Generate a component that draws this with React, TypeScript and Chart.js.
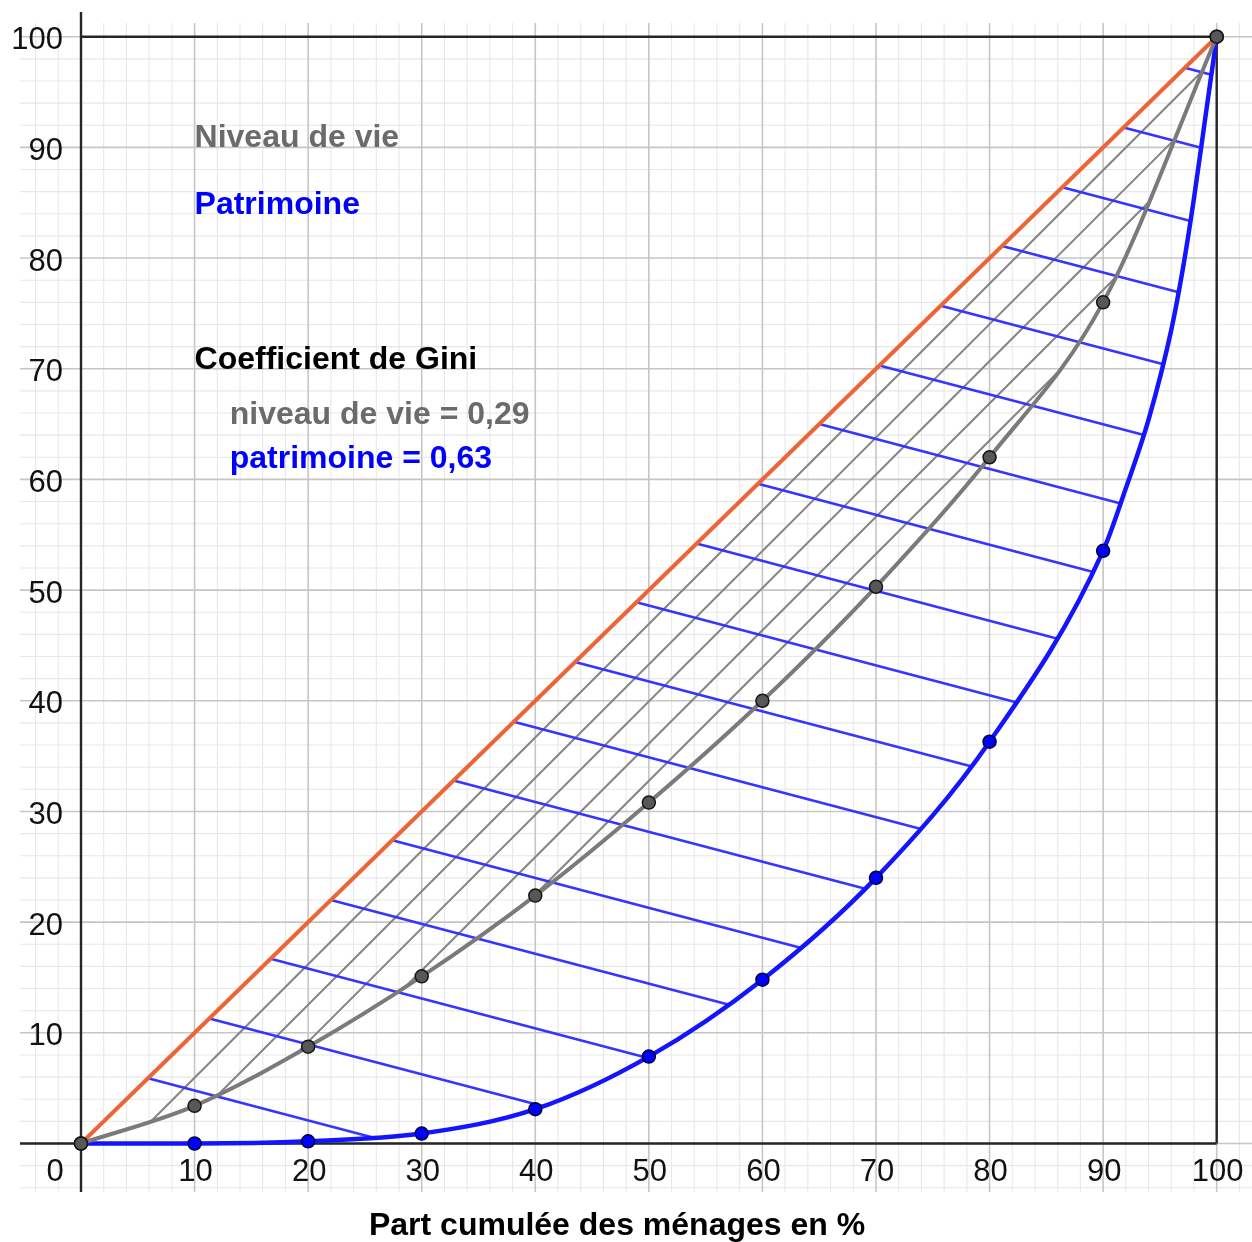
import { useEffect, useRef } from 'react';
import { Chart, registerables } from 'chart.js';

Chart.register(...registerables);

// ---------- data ----------
const deciles = [0, 10, 20, 30, 40, 50, 60, 70, 80, 90, 100];
const niveauDeVie = [0, 3.4, 8.75, 15.1, 22.4, 30.8, 40.0, 50.3, 62.0, 76.0, 100];
const patrimoine = [0, 0, 0.2, 0.9, 3.1, 7.85, 14.8, 24.0, 36.3, 53.55, 100];
// extra positions of the patrimoine curve in its steep upper end
const patrimoineTopX = [92, 94, 96, 97, 98, 99];
const patrimoineTopY = [59.2, 65.4, 73.5, 78.9, 85.4, 92.7];
// line of perfect equality
const egaliteX = [0, 100];
const egaliteY = [0, 100];
// hatching: blue lines start on the equality line, grey lines on the niveau curve
const blueHatchStarts = [5.9, 11.3, 16.7, 22.0, 27.4, 32.8, 38.1, 43.5, 48.9, 54.2, 59.6, 65.0, 70.3, 75.7, 81.1, 86.4, 91.8, 97.2];
const blueHatchSlope = -0.27;
const greyHatchStarts = [6.1, 12.0, 19.0, 28.5, 39.5];
const greyHatchSlope = 1.025;
// axes
const tickValues = [10, 20, 30, 40, 50, 60, 70, 80, 90, 100];
const originLabel = '0';
const xTitle = 'Part cumulée des ménages en %';
const legendNiveau = 'Niveau de vie';
const legendPatrimoine = 'Patrimoine';
const giniTitle = 'Coefficient de Gini';
const giniNiveau = 'niveau de vie = 0,29';
const giniPatrimoine = 'patrimoine = 0,63';

// ---------- view ----------
const PAD = { left: 20, right: 10, top: 23, bottom: 50 };
const W = 1252;
const H = 1242;
const XMIN = -5.371;
const XMAX = XMIN + (W - PAD.left - PAD.right) / 11.357;
const YMIN = -4.382;
const YMAX = YMIN + (H - PAD.top - PAD.bottom) / 11.068;
const GRID_STEP = 2;
const AXIS_TOP_PX = 12;

// monotone cubic (same as Chart.js cubicInterpolationMode: 'monotone')
function monotone(xs: number[], ys: number[]) {
  const n = xs.length;
  const d: number[] = [];
  for (let i = 0; i < n - 1; i++) d[i] = (ys[i + 1] - ys[i]) / (xs[i + 1] - xs[i]);
  const m: number[] = [];
  for (let i = 0; i < n; i++) {
    if (i === 0) m[i] = d[0];
    else if (i === n - 1) m[i] = d[n - 2];
    else m[i] = Math.sign(d[i - 1]) !== Math.sign(d[i]) ? 0 : (d[i - 1] + d[i]) / 2;
  }
  for (let i = 0; i < n - 1; i++) {
    if (Math.abs(d[i]) < 1e-14) { m[i] = 0; m[i + 1] = 0; continue; }
    const a = m[i] / d[i];
    const b = m[i + 1] / d[i];
    const s = a * a + b * b;
    if (s <= 9) continue;
    const tau = 3 / Math.sqrt(s);
    m[i] = a * tau * d[i];
    m[i + 1] = b * tau * d[i];
  }
  return (x: number) => {
    let i = 0;
    while (i < n - 2 && x > xs[i + 1]) i++;
    const h = xs[i + 1] - xs[i];
    const t = (x - xs[i]) / h;
    const t2 = t * t, t3 = t2 * t;
    return (2 * t3 - 3 * t2 + 1) * ys[i] + (t3 - 2 * t2 + t) * h * m[i] +
      (-2 * t3 + 3 * t2) * ys[i + 1] + (t3 - t2) * h * m[i + 1];
  };
}

function bisect(g: (x: number) => number, a: number, b: number) {
  let ga = g(a);
  for (let i = 0; i < 60; i++) {
    const mid = (a + b) / 2;
    const gm = g(mid);
    if ((gm > 0) === (ga > 0)) { a = mid; ga = gm; } else b = mid;
  }
  return (a + b) / 2;
}

export default function App() {
  const ref = useRef<HTMLCanvasElement | null>(null);

  useEffect(() => {
    document.body.style.margin = '0';
    document.body.style.overflow = 'hidden';
    const canvas = ref.current;
    if (!canvas) return;

    const patPts = deciles.map((x, i) => ({ x, y: patrimoine[i] }))
      .concat(patrimoineTopX.map((x, i) => ({ x, y: patrimoineTopY[i] })))
      .sort((a, b) => a.x - b.x);
    const P = monotone(patPts.map(p => p.x), patPts.map(p => p.y));
    const N = monotone(deciles, niveauDeVie);

    const blueSegs = blueHatchStarts.map(t => {
      const line = (x: number) => t + blueHatchSlope * (x - t);
      const xe = bisect(x => line(x) - P(x), t, 100);
      return [{ x: t, y: t }, { x: xe, y: line(xe) }];
    });
    const greySegs = greyHatchStarts.map(x0 => {
      const y0 = N(x0);
      const line = (x: number) => y0 + greyHatchSlope * (x - x0);
      const g = (x: number) => line(x) - N(x);
      let a = x0 + 0.5;
      while (a < 100 && g(a + 0.5) > 0) a += 0.5;
      const xe = bisect(g, a, Math.min(100, a + 0.5));
      return [{ x: x0, y: y0 }, { x: xe, y: line(xe) }];
    });

    const datasets: any[] = [];
    datasets.push({
      label: legendNiveau,
      data: deciles.map((x, i) => ({ x, y: niveauDeVie[i] })),
      borderColor: '#7a7a7a', borderWidth: 4,
      cubicInterpolationMode: 'monotone',
      pointRadius: 6.5, pointBackgroundColor: '#575757', pointBorderColor: '#151515', pointBorderWidth: 1.5,
      order: 0,
    });
    datasets.push({
      label: legendPatrimoine + ' points',
      data: deciles.map((x, i) => ({ x, y: patrimoine[i] })),
      showLine: false,
      pointRadius: 6.5, pointBackgroundColor: '#0000ff', pointBorderColor: '#000033', pointBorderWidth: 1.5,
      order: 1,
    });
    datasets.push({
      label: legendPatrimoine,
      data: patPts,
      borderColor: '#1414ff', borderWidth: 4.5,
      cubicInterpolationMode: 'monotone',
      pointRadius: 0,
      order: 2,
    });
    datasets.push({
      label: 'égalité',
      data: egaliteX.map((x, i) => ({ x, y: egaliteY[i] })),
      borderColor: '#ec6536', borderWidth: 4,
      pointRadius: 0,
      order: 3,
    });
    blueSegs.forEach((seg, i) => datasets.push({
      label: 'hb' + i, data: seg, borderColor: '#3535ff', borderWidth: 2.6, pointRadius: 0, order: 4,
    }));
    greySegs.forEach((seg, i) => datasets.push({
      label: 'hg' + i, data: seg, borderColor: '#858585', borderWidth: 2.1, pointRadius: 0, order: 5,
    }));

    const decor = {
      id: 'decor',
      beforeDatasetsDraw(chart: any) {
        const { ctx, chartArea: ca, scales } = chart;
        const sx = scales.x, sy = scales.y;
        ctx.save();
        const start = Math.ceil(Math.min(XMIN, YMIN) / GRID_STEP) * GRID_STEP;
        const end = Math.floor(Math.max(XMAX + 1, YMAX) / GRID_STEP) * GRID_STEP;
        for (const major of [false, true]) {
          ctx.strokeStyle = major ? '#c6c6c6' : '#e8e8e8';
          ctx.lineWidth = major ? 1.6 : 1.1;
          ctx.beginPath();
          for (let v = start; v <= end; v += GRID_STEP) {
            const isMajor = v % 10 === 0;
            if (isMajor !== major) continue;
            const px = sx.getPixelForValue(v);
            if (v >= XMIN && px <= W - 2) {
              ctx.moveTo(px, ca.top); ctx.lineTo(px, ca.bottom);
            }
            if (v >= YMIN && v <= YMAX) {
              const py = sy.getPixelForValue(v);
              ctx.moveTo(ca.left, py); ctx.lineTo(W, py);
            }
          }
          ctx.stroke();
        }
        const x0 = sx.getPixelForValue(0), x100 = sx.getPixelForValue(100);
        const y0 = sy.getPixelForValue(0), y100 = sy.getPixelForValue(100);
        ctx.strokeStyle = '#262626';
        ctx.lineWidth = 2.4;
        ctx.beginPath();
        ctx.moveTo(x0, AXIS_TOP_PX); ctx.lineTo(x0, ca.bottom);
        ctx.moveTo(ca.left, y0); ctx.lineTo(x100, y0);
        ctx.moveTo(x0, y100); ctx.lineTo(x100, y100);
        ctx.moveTo(x100, y0); ctx.lineTo(x100, y100);
        ctx.stroke();
        ctx.restore();
      },
      afterDatasetsDraw(chart: any) {
        const { ctx, scales } = chart;
        const sx = scales.x, sy = scales.y;
        ctx.save();
        ctx.fillStyle = '#111';
        ctx.font = "31px 'Liberation Sans', Arial, sans-serif";
        ctx.textBaseline = 'middle';
        const x0 = sx.getPixelForValue(0), y0 = sy.getPixelForValue(0);
        ctx.textAlign = 'right';
        tickValues.forEach(v => ctx.fillText(String(v), x0 - 18, sy.getPixelForValue(v) + 4));
        ctx.textAlign = 'center';
        tickValues.forEach(v => ctx.fillText(String(v), sx.getPixelForValue(v) + 1, y0 + 29));
        ctx.fillText(originLabel, x0 - 26, y0 + 29);
        ctx.font = "bold 32px 'Liberation Sans', Arial, sans-serif";
        ctx.textBaseline = 'alphabetic';
        ctx.fillStyle = '#000';
        ctx.fillText(xTitle, sx.getPixelForValue(47.2), y0 + 91);
        ctx.textAlign = 'left';
        const notes: [string, string, number, number][] = [
          [legendNiveau, '#6b6b6b', 10, 90],
          [legendPatrimoine, '#0000ff', 10, 84],
          [giniTitle, '#000000', 10, 70],
          [giniNiveau, '#6b6b6b', 13.1, 65],
          [giniPatrimoine, '#0000ff', 13.1, 61],
        ];
        notes.forEach(([t, c, x, y]) => {
          ctx.fillStyle = c;
          ctx.fillText(t, sx.getPixelForValue(x), sy.getPixelForValue(y));
        });
        ctx.restore();
      },
    };

    const chart = new Chart(canvas, {
      type: 'line',
      data: { datasets },
      options: {
        animation: false,
        responsive: false,
        devicePixelRatio: 1,
        events: [],
        layout: { padding: PAD },
        plugins: { legend: { display: false }, tooltip: { enabled: false } },
        scales: {
          x: { type: 'linear', min: XMIN, max: XMAX, display: false },
          y: { type: 'linear', min: YMIN, max: YMAX, display: false },
        },
      },
      plugins: [decor],
    } as any);

    return () => chart.destroy();
  }, []);

  return (
    <div style={{ width: W, height: H, background: '#fff' }}>
      <canvas ref={ref} width={W} height={H} style={{ display: 'block', width: W, height: H }} />
    </div>
  );
}
